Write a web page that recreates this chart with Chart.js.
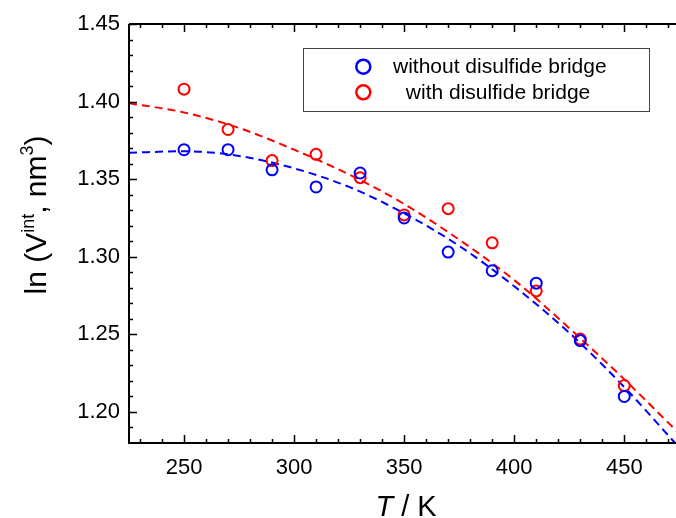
<!DOCTYPE html>
<html>
<head>
<meta charset="utf-8">
<script src="https://cdn.jsdelivr.net/npm/chart.js@4"></script>
<style>
  html, body { margin: 0; padding: 0; background: #fff; }
  #wrap { width: 676px; height: 518px; }
</style>
</head>
<body>
<div id="wrap"><canvas id="volChart" width="676" height="518"></canvas></div>
<script>
const FONT = 'Arial, "Liberation Sans", sans-serif';

// measured points
const temps = [250, 270, 290, 310, 330, 350, 370, 390, 410, 430, 450];
const withoutBridge = [1.369, 1.369, 1.356, 1.345, 1.354, 1.325, 1.303, 1.291, 1.283, 1.246, 1.210];
const withBridge = [1.408, 1.382, 1.362, 1.366, 1.351, 1.327, 1.331, 1.309, 1.278, 1.247, 1.217];

// dashed fit curves
const fitTemps = [225, 250, 275, 300, 325, 350, 375, 400, 425, 450, 475];
const fitWithout = [1.367, 1.368, 1.365, 1.357, 1.345, 1.328, 1.307, 1.281, 1.251, 1.216, 1.177];
const fitWith = [1.399, 1.393, 1.383, 1.369, 1.353, 1.334, 1.311, 1.285, 1.254, 1.221, 1.186];

const seriesLabels = ["without disulfide bridge", " with disulfide bridge"];
const seriesColors = ["#0000ff", "#ff0000"];

const xTicks = [250, 300, 350, 400, 450];
const yTicks = [1.20, 1.25, 1.30, 1.35, 1.40, 1.45];

function toPoints(xs, ys) {
  return xs.map((x, i) => ({ x: x, y: ys[i] }));
}

//frame, inward ticks, axis titles and legend box
const decorPlugin = {
  id: "decor",
  afterDraw(chart) {
    const ctx = chart.ctx;
    const area = chart.chartArea;
    const xs = chart.scales.x;
    const ys = chart.scales.y;

    ctx.save();
    ctx.strokeStyle = "#000";
    ctx.lineWidth = 2;
    ctx.beginPath();
    ctx.moveTo(area.left, area.top);
    ctx.lineTo(area.left, area.bottom);
    ctx.lineTo(chart.width, area.bottom);
    ctx.moveTo(area.left, area.top);
    ctx.lineTo(chart.width, area.top);
    ctx.stroke();

    // x ticks (bottom and top)
    ctx.lineWidth = 1.5;
    ctx.beginPath();
    for (let v = 230; v <= 470; v += 10) {
      const px = Math.round(xs.getPixelForValue(v)) + 0.5;
      const len = xTicks.includes(v) ? 8 : 4;
      ctx.moveTo(px, area.bottom);
      ctx.lineTo(px, area.bottom - len);
      ctx.moveTo(px, area.top);
      ctx.lineTo(px, area.top + len);
    }
    // y ticks
    for (let k = 119; k <= 145; k++) {
      const v = k / 100;
      const py = Math.round(ys.getPixelForValue(v)) + 0.5;
      const len = (k % 5 === 0) ? 8 : 4;
      ctx.moveTo(area.left, py);
      ctx.lineTo(area.left + len, py);
    }
    ctx.stroke();

    // x title
    ctx.fillStyle = "#000";
    ctx.textBaseline = "alphabetic";
    ctx.font = "italic 29px " + FONT;
    const tW = ctx.measureText("T").width;
    ctx.font = "29px " + FONT;
    const restW = ctx.measureText(" / K").width;
    let x0 = 406 - (tW + restW) / 2;
    ctx.font = "italic 29px " + FONT;
    ctx.fillText("T", x0, 516);
    ctx.font = "29px " + FONT;
    ctx.fillText(" / K", x0 + tW, 516);

    // y title with superscripts
    const parts = [
      { t: "ln (V", size: 30, up: 0 },
      { t: "int", size: 18, up: 12 },
      { t: ", nm", size: 30, up: 0 },
      { t: "3", size: 18, up: 13 },
      { t: ")", size: 30, up: 0 }
    ];
    let total = 0;
    parts.forEach(p => {
      ctx.font = p.size + "px " + FONT;
      p.w = ctx.measureText(p.t).width;
      total += p.w;
    });
    ctx.save();
    ctx.translate(46, 215);
    ctx.rotate(-Math.PI / 2);
    let cx = -total / 2;
    parts.forEach(p => {
      ctx.font = p.size + "px " + FONT;
      ctx.fillText(p.t, cx, -p.up);
      cx += p.w;
    });
    ctx.restore();

    // legend
    ctx.lineWidth = 1;
    ctx.strokeStyle = "#444";
    ctx.strokeRect(303.5, 48.5, 346, 63);
    const rows = [66.7, 92.3];
    const textX = [393, 400];
    ctx.font = "21px " + FONT;
    ctx.textBaseline = "middle";
    rows.forEach((ry, i) => {
      ctx.beginPath();
      ctx.lineWidth = 2.5;
      ctx.strokeStyle = seriesColors[i];
      ctx.arc(363.3, ry, 7, 0, Math.PI * 2);
      ctx.stroke();
      ctx.fillStyle = "#000";
      ctx.fillText(seriesLabels[i], textX[i], ry + 1);
    });
    ctx.restore();
  }
};

const ctx = document.getElementById("volChart").getContext("2d");

new Chart(ctx, {
  type: "scatter",
  data: {
    datasets: [
      {
        label: seriesLabels[0],
        data: toPoints(temps, withoutBridge),
        borderColor: seriesColors[0],
        backgroundColor: "rgba(0,0,0,0)",
        borderWidth: 2,
        pointRadius: 5.5,
        pointHoverRadius: 5.5
      },
      {
        label: seriesLabels[1],
        data: toPoints(temps, withBridge),
        borderColor: seriesColors[1],
        backgroundColor: "rgba(0,0,0,0)",
        borderWidth: 2,
        pointRadius: 5.5,
        pointHoverRadius: 5.5
      },
      {
        label: "fit without",
        data: toPoints(fitTemps, fitWithout),
        showLine: true,
        borderColor: seriesColors[0],
        borderWidth: 2,
        borderDash: [8, 5],
        pointRadius: 0,
        cubicInterpolationMode: "monotone"
      },
      {
        label: "fit with",
        data: toPoints(fitTemps, fitWith),
        showLine: true,
        borderColor: seriesColors[1],
        borderWidth: 2,
        borderDash: [8, 5],
        pointRadius: 0,
        cubicInterpolationMode: "monotone"
      }
    ]
  },
  options: {
    responsive: false,
    animation: false,
    events: [],
    layout: { autoPadding: false, padding: { top: 24, right: 0, bottom: 0, left: 0 } },
    plugins: {
      legend: { display: false },
      tooltip: { enabled: false }
    },
    scales: {
      x: {
        type: "linear",
        min: 225,
        max: 473.5,
        afterFit(scale) {
          scale.height = 75;
          scale.paddingLeft = 0;
          scale.paddingRight = 0;
        },
        afterBuildTicks(scale) { scale.ticks = xTicks.map(v => ({ value: v })); },
        grid: { display: false, drawTicks: false },
        border: { display: false },
        ticks: {
          padding: 12,
          color: "#000",
          font: { family: FONT, size: 22 },
          maxRotation: 0
        }
      },
      y: {
        type: "linear",
        min: 1.18,
        max: 1.45,
        afterFit(scale) { scale.width = 129; },
        afterBuildTicks(scale) { scale.ticks = yTicks.map(v => ({ value: v })); },
        grid: { display: false, drawTicks: false },
        border: { display: false },
        ticks: {
          padding: 9,
          color: "#000",
          font: { family: FONT, size: 22 },
          callback: v => v.toFixed(2)
        }
      }
    }
  },
  plugins: [decorPlugin]
});
</script>
</body>
</html>
